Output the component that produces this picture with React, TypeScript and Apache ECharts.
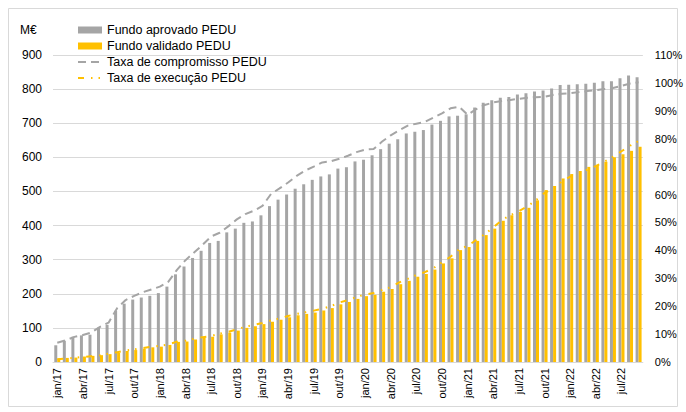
import React, { useEffect, useRef } from "react";
import * as echarts from "echarts";

const monthNames = ["jan", "fev", "mar", "abr", "mai", "jun", "jul", "ago", "set", "out", "nov", "dez"];
const years = ["17", "18", "19", "20", "21", "22"];
const categories: string[] = [];
years.forEach((y) => monthNames.forEach((m) => categories.push(`${m}/${y}`)));
categories.length = 69; // jan/17 .. set/22

const fundoAprovado = [
  49, 62, 74, 78, 80, 101, 109, 150, 171, 183, 189, 194,
  202, 221, 257, 280, 305, 326, 349, 355, 380, 391, 408, 412,
  430, 457, 476, 491, 508, 521, 534, 544, 550, 567, 571, 588,
  593, 606, 624, 640, 653, 670, 675, 680, 696, 707, 720, 722,
  726, 746, 760, 767, 775, 777, 784, 788, 793, 796, 802, 812,
  813, 814, 816, 819, 823, 823, 832, 840, 835,
];

const fundoValidado = [
  10, 12, 13, 16, 18, 20, 23, 27, 32, 35, 39, 43,
  45, 50, 59, 60, 66, 72, 74, 81, 86, 92, 100, 105,
  111, 118, 124, 131, 137, 141, 145, 151, 158, 169, 176, 185,
  193, 197, 206, 214, 228, 238, 250, 258, 271, 289, 304, 328,
  337, 355, 372, 391, 414, 430, 440, 452, 474, 504, 516, 538,
  551, 560, 572, 578, 587, 600, 609, 619, 631,
];

const taxaCompromisso = [
  6.9, 7.8, 9.0, 9.7, 10.6, 12.6, 14.1, 19.3, 22.2, 23.7, 25.0, 26.0,
  27.0, 28.8, 33.0, 36.5, 39.2, 42.0, 45.0, 46.3, 48.6, 51.1, 53.0, 54.2,
  55.9, 60.2, 62.2, 64.3, 66.7, 68.6, 70.0, 71.5, 71.9, 72.8, 73.9, 75.2,
  76.1, 76.3, 79.0, 81.2, 83.0, 84.7, 85.4, 86.0, 87.6, 89.1, 90.9, 91.5,
  88.6, 90.6, 92.1, 93.0, 93.5, 93.9, 94.3, 94.7, 94.9, 95.0, 95.7, 96.1,
  96.3, 96.7, 97.1, 97.4, 97.8, 98.2, 98.9, 99.8, 100.2,
];

const taxaExecucao = [
  1.0, 1.2, 1.5, 1.8, 2.1, 2.4, 3.0, 3.5, 4.1, 4.5, 5.0, 5.5,
  5.8, 6.3, 7.3, 7.6, 8.3, 8.9, 9.3, 10.2, 10.8, 11.7, 12.6, 13.3,
  14.0, 14.9, 15.6, 16.5, 17.2, 17.8, 18.4, 19.1, 20.0, 21.3, 22.2, 23.3,
  24.2, 24.7, 25.8, 26.8, 28.5, 29.8, 31.2, 32.2, 33.6, 35.7, 37.7, 40.4,
  41.6, 43.7, 45.8, 48.2, 50.8, 52.6, 54.0, 55.8, 58.0, 60.6, 62.2, 64.6,
  66.4, 67.6, 68.9, 70.2, 71.8, 73.5, 75.5, 77.5, 79.2,
];

const GREY = "#a5a5a5";
const YELLOW = "#ffc000";
const FONT = "Liberation Sans, Arial, sans-serif";

export default function App() {
  const ref = useRef<HTMLDivElement>(null);

  useEffect(() => {
    if (!ref.current) return;
    const chart = echarts.init(ref.current, undefined, { renderer: "svg" });
    chart.setOption({
      animation: false,
      backgroundColor: "#ffffff",
      textStyle: { fontFamily: FONT, color: "#000" },
      grid: { left: 53, right: 41, top: 55, bottom: 50, containLabel: false },
      graphic: [
        {
          type: "rect",
          shape: { x: 8.5, y: 8.5, width: 669, height: 398 },
          style: { fill: "none", stroke: "#d9d9d9", lineWidth: 1 },
          silent: true,
          z: -1,
        },
        {
          type: "text",
          left: 20,
          top: 24,
          style: { text: "M€", fontSize: 12, fontFamily: FONT, fill: "#000" },
        },
      ],
      legend: {
        orient: "vertical",
        left: 77,
        top: 22,
        itemWidth: 24,
        itemHeight: 7,
        itemGap: 0,
        padding: 0,
        textStyle: { fontSize: 12.5, color: "#000", fontFamily: FONT, lineHeight: 16 },
        data: [
          { name: "Fundo aprovado PEDU", icon: "rect" },
          { name: "Fundo validado PEDU", icon: "rect" },
          { name: "Taxa de compromisso PEDU", itemStyle: { opacity: 0 } },
          { name: "Taxa de execução PEDU", itemStyle: { opacity: 0 } },
        ],
      },
      xAxis: {
        type: "category",
        data: categories,
        boundaryGap: true,
        axisTick: { show: false },
        axisLine: { show: true, lineStyle: { color: "#d9d9d9", width: 1 } },
        axisLabel: {
          interval: 2,
          rotate: 90,
          fontSize: 11,
          color: "#000",
          margin: 6,
          fontFamily: FONT,
        },
      },
      yAxis: [
        {
          type: "value",
          min: 0,
          max: 900,
          interval: 100,
          axisLine: { show: false },
          axisTick: { show: false },
          axisLabel: { fontSize: 12, color: "#000", margin: 11, fontFamily: FONT },
          splitLine: { show: true, lineStyle: { color: "#d9d9d9", width: 1 } },
        },
        {
          type: "value",
          min: 0,
          max: 110,
          interval: 10,
          axisLine: { show: false },
          axisTick: { show: false },
          axisLabel: { fontSize: 11, color: "#000", margin: 12, formatter: "{value}%", fontFamily: FONT },
          splitLine: { show: false },
        },
      ],
      series: [
        {
          name: "Fundo aprovado PEDU",
          type: "bar",
          data: fundoAprovado,
          barWidth: "35%",
          barGap: "0%",
          itemStyle: { color: GREY },
        },
        {
          name: "Fundo validado PEDU",
          type: "bar",
          data: fundoValidado,
          barWidth: "35%",
          barGap: "0%",
          itemStyle: { color: YELLOW },
        },
        {
          name: "Taxa de compromisso PEDU",
          type: "line",
          yAxisIndex: 1,
          data: taxaCompromisso,
          symbol: "none",
          itemStyle: { color: GREY },
          lineStyle: { color: GREY, width: 2, type: [8, 5] },
        },
        {
          name: "Taxa de execução PEDU",
          type: "line",
          yAxisIndex: 1,
          data: taxaExecucao,
          symbol: "none",
          itemStyle: { color: YELLOW },
          lineStyle: { color: YELLOW, width: 2, type: [6, 7, 1.5, 6, 1.5, 7] },
        },
      ],
    });
    return () => chart.dispose();
  }, []);

  return (
    <div
      ref={ref}
      style={{ position: "absolute", left: 0, top: 0, width: 686, height: 412 }}
    />
  );
}
